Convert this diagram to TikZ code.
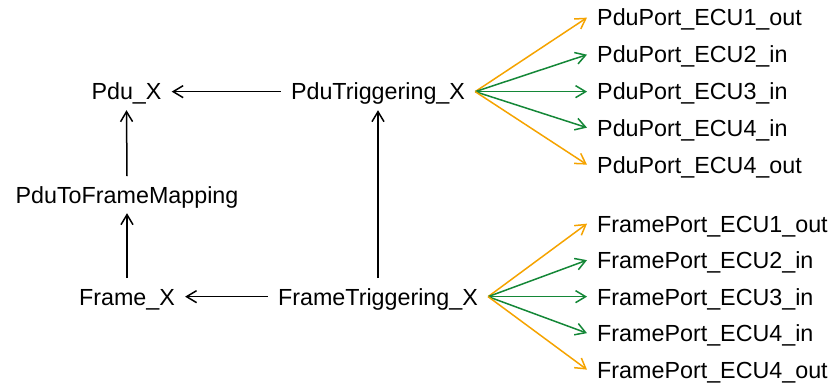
\documentclass[tikz,border=0pt]{standalone}
\usepackage{fontspec}
\setmainfont{Liberation Sans}
\usetikzlibrary{arrows.meta}
\definecolor{portorange}{RGB}{245,163,0}
\definecolor{portgreen}{RGB}{20,135,55}
\begin{document}
\begin{tikzpicture}[x=1pt,y=-1pt,
  lbl/.style={inner sep=10pt, text height=16.7pt, text depth=0pt, font=\fontsize{23.3}{28}\selectfont, anchor=base},
  port/.style={lbl, anchor=base west},
  conn/.style={line width=1.5pt, -{Straight Barb[length=10pt,width=12pt,line width=1.5pt]}},
  outc/.style={conn, draw=portorange},
  inc/.style={conn, draw=portgreen}]
\useasboundingbox (0,0) rectangle (832,385);
\node[lbl] (pdu) at (126.5,100) {Pdu\_X};
\node[lbl] (pdutrig) at (378,100) {PduTriggering\_X};
\node[lbl] (map) at (127,203) {PduToFrameMapping};
\node[lbl] (frame) at (127,305) {Frame\_X};
\node[lbl] (frametrig) at (378,305) {FrameTriggering\_X};

\node[port] (p1) at (587,26) {PduPort\_ECU1\_out};
\node[port] (p2) at (587,63) {PduPort\_ECU2\_in};
\node[port] (p3) at (587,100) {PduPort\_ECU3\_in};
\node[port] (p4) at (587,136) {PduPort\_ECU4\_in};
\node[port] (p5) at (587,173) {PduPort\_ECU4\_out};

\node[port] (f1) at (587,232) {FramePort\_ECU1\_out};
\node[port] (f2) at (587,268.5) {FramePort\_ECU2\_in};
\node[port] (f3) at (587,305) {FramePort\_ECU3\_in};
\node[port] (f4) at (587,341.5) {FramePort\_ECU4\_in};
\node[port] (f5) at (587,378) {FramePort\_ECU4\_out};

\draw[conn] (pdutrig.west) -- (pdu.east);
\draw[conn] (map.north) -- (pdu.south);
\draw[conn] (frame.north) -- (map.south);
\draw[conn] (frametrig.west) -- (frame.east);
\draw[conn] (frametrig.north) -- (pdutrig.south);

\draw[outc] (pdutrig.east) -- (p1.west);
\draw[inc] (pdutrig.east) -- (p2.west);
\draw[inc] (pdutrig.east) -- (p3.west);
\draw[inc] (pdutrig.east) -- (p4.west);
\draw[outc] (pdutrig.east) -- (p5.west);

\draw[outc] (frametrig.east) -- (f1.west);
\draw[inc] (frametrig.east) -- (f2.west);
\draw[inc] (frametrig.east) -- (f3.west);
\draw[inc] (frametrig.east) -- (f4.west);
\draw[outc] (frametrig.east) -- (f5.west);
\end{tikzpicture}
\end{document}
